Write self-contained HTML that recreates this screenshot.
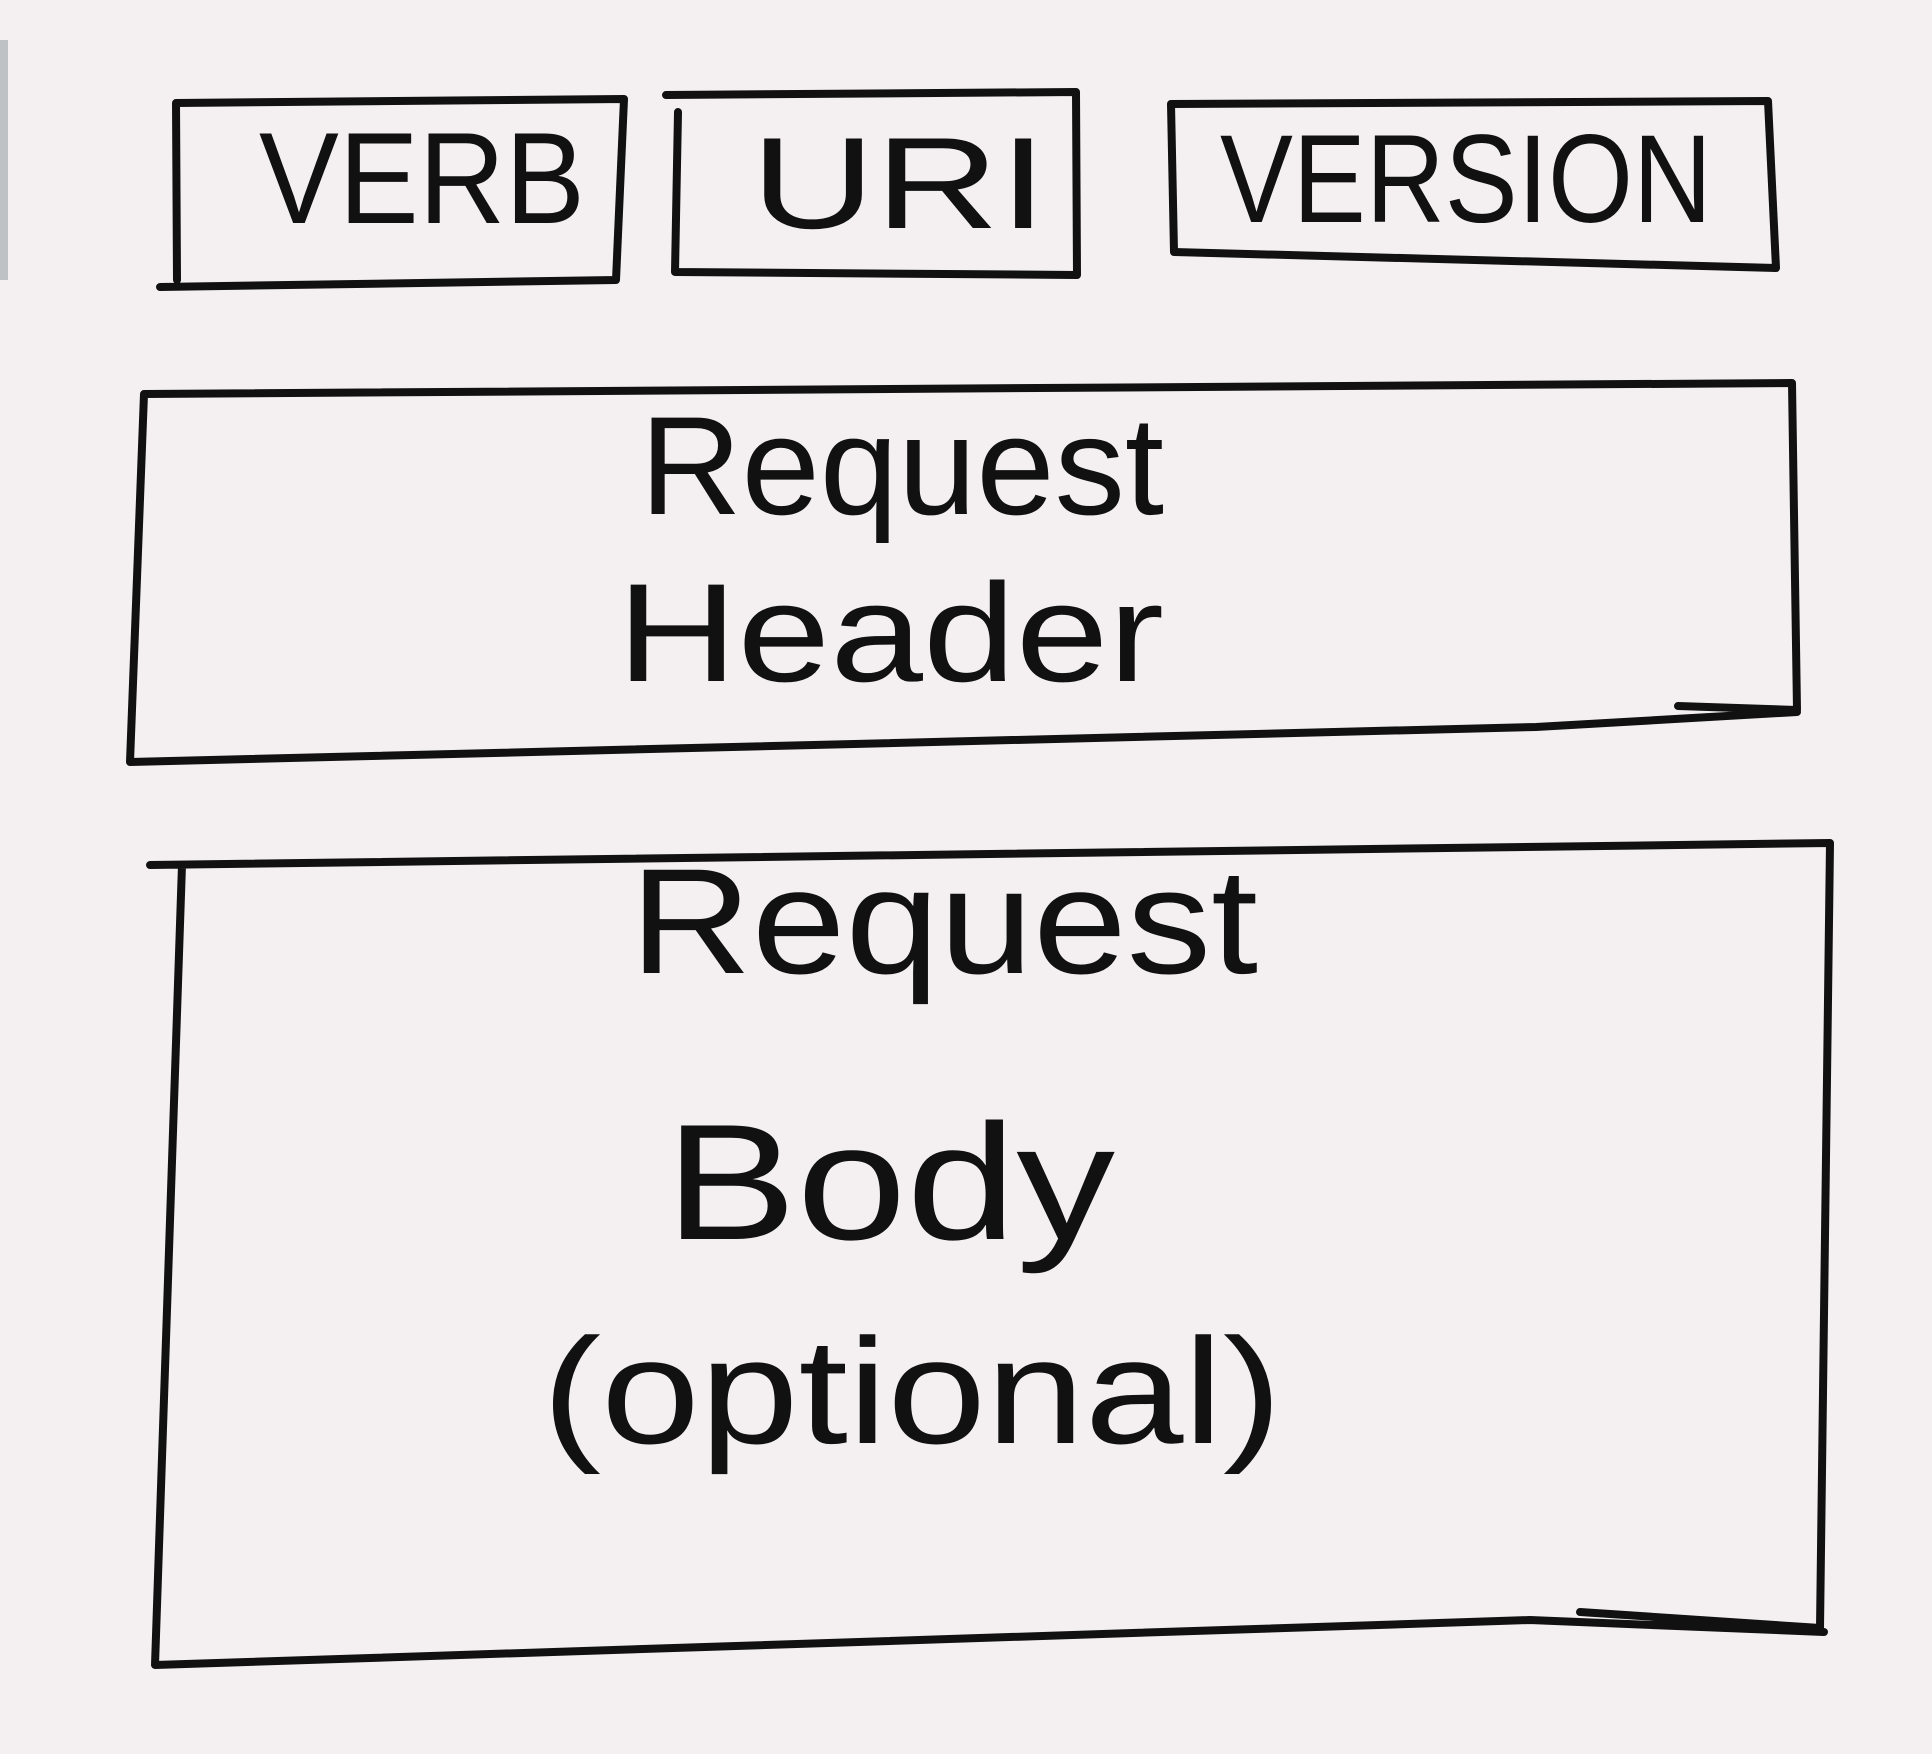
<!DOCTYPE html>
<html><head><meta charset="utf-8"><style>
html,body{margin:0;padding:0;background:#f4f0f1;}
svg{display:block;}
text{font-family:"Liberation Sans",sans-serif;fill:#111;}
</style></head><body>
<svg width="1932" height="1754" viewBox="0 0 1932 1754" xmlns="http://www.w3.org/2000/svg">
<rect width="1932" height="1754" fill="#f4f0f1"/>
<rect x="0" y="40" width="8" height="240" fill="#9aa4a6" opacity="0.6"/>
<g fill="none" stroke="#111" stroke-width="8" stroke-linejoin="round" stroke-linecap="round">
<path d="M176 103 L624 99 L616 280 L160 287 M176 103 L177 280"/>
<path d="M666 95 L1076 92 L1077 275 L675 272 L678 112"/>
<path d="M1171 104 L1768 101 L1776 268 L1174 252 L1171 104"/>
<path d="M144 394 L1792 383 L1797 710 L1678 706 M1797 712 L1536 727 L130 762 L144 394"/>
<path d="M150 865 L1830 843 L1820 1628 L1580 1612 M1824 1632 L1530 1620 L155 1665 L182 865"/>
</g>
<text x="259" y="223" font-size="130" textLength="326" lengthAdjust="spacingAndGlyphs">VERB</text>
<text x="751" y="228" font-size="130" textLength="296" lengthAdjust="spacingAndGlyphs">URI</text>
<text x="1220" y="222" font-size="125" textLength="492" lengthAdjust="spacingAndGlyphs">VERSION</text>
<text x="640" y="514" font-size="140" textLength="524" lengthAdjust="spacingAndGlyphs">Request</text>
<text x="617" y="681" font-size="140" textLength="547" lengthAdjust="spacingAndGlyphs">Header</text>
<text x="630" y="973" font-size="150" textLength="628" lengthAdjust="spacingAndGlyphs">Request</text>
<text x="665" y="1239" font-size="165" textLength="450" lengthAdjust="spacingAndGlyphs">Body</text>
<text x="542" y="1443" font-size="150" textLength="740" lengthAdjust="spacingAndGlyphs">(optional)</text>
</svg>
</body></html>
